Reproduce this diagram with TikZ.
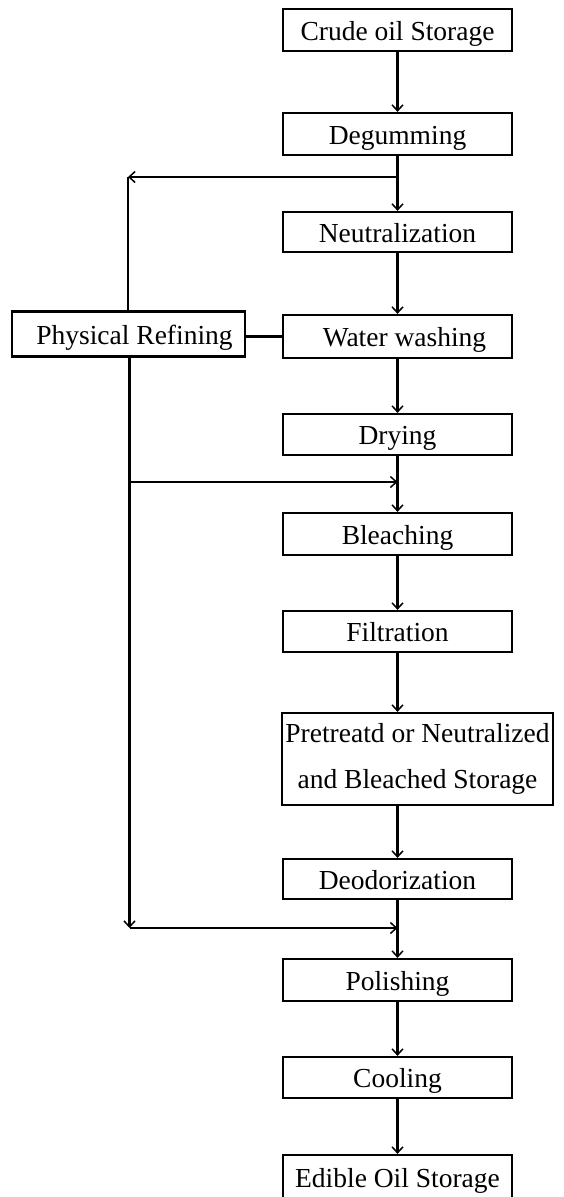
\documentclass[tikz,border=0pt]{standalone}
\usepackage{fontspec}
\setmainfont{Liberation Serif}
\usetikzlibrary{arrows.meta}
\begin{document}
\begin{tikzpicture}[x=1pt,y=-1pt,
  stage/.style={draw,line width=2.2pt,rectangle,inner sep=0pt,
    minimum width=229pt,minimum height=42pt,align=center,
    text height=22pt,text depth=2pt,
    font=\fontsize{27.5}{46}\selectfont},
  flow/.style={line width=2.2pt,
    -{Straight Barb[length=6pt,width=11pt,line width=1.5pt]}},
  link/.style={line width=2.2pt}]
  \useasboundingbox[fill=white] (0,0) rectangle (563,1197);

  % main process chain
  \node[stage] (crude)  at (397.5,30)   {Crude oil Storage};
  \node[stage] (degum)  at (397.5,134)  {Degumming};
  \node[stage,minimum height=40pt] (neutral) at (397.5,232) {Neutralization};
  \node[stage,minimum height=43pt] (wash)    at (397.5,336.5) {\hspace*{14pt}Water washing};
  \node[stage,minimum height=41pt] (dry)     at (397.5,434.5) {Drying};
  \node[stage] (bleach) at (397.5,534)  {Bleaching};
  \node[stage,minimum height=41pt] (filt)    at (397.5,631.5) {Filtration};
  \node[stage,minimum width=271pt,minimum height=92pt,text height=,text depth=]
       (pre) at (417.5,759) {Pretreatd or Neutralized\\and Bleached Storage};
  \node[stage,minimum height=40pt] (deo)     at (397.5,879) {Deodorization};
  \node[stage] (polish) at (397.5,980)  {Polishing};
  \node[stage,minimum height=41pt] (cool)    at (397.5,1077.5) {Cooling};
  \node[stage,minimum height=45pt] (edible)  at (397.5,1177.5) {Edible Oil Storage};

  % physical refining branch
  \node[stage,minimum width=233pt,minimum height=45pt] (phys) at (128.5,334)
       {\hspace*{12pt}Physical Refining};

  % junction points
  \coordinate (j1) at (397.5,177);
  \coordinate (c1) at (128,177);
  \coordinate (j2) at (397.5,482);
  \coordinate (c2) at (129.5,482);
  \coordinate (j3) at (397.5,928);
  \coordinate (c3) at (129.5,928);

  % vertical flow
  \draw[flow] (crude) -- (degum);
  \draw[flow] (degum) -- (neutral);
  \draw[flow] (neutral) -- (wash);
  \draw[flow] (wash) -- (dry);
  \draw[flow] (dry) -- (bleach);
  \draw[flow] (bleach) -- (filt);
  \draw[flow] (filt.south) -- (filt.south |- pre.north);
  \draw[flow] (deo.north |- pre.south) -- (deo);
  \draw[flow] (deo) -- (polish);
  \draw[flow] (polish) -- (cool);
  \draw[flow] (cool) -- (edible);

  % branch connections
  \draw[flow] (j1) -- (c1);
  \draw[link] (c1) -- (c1 |- phys.north);
  \draw[link] (wash.west -| phys.east) -- (wash.west);
  \draw[flow] ([xshift=1pt]phys.south) -- (c3);
  \draw[flow] (c2) -- (j2);
  \draw[flow] (c3) -- (j3);
\end{tikzpicture}
\end{document}
